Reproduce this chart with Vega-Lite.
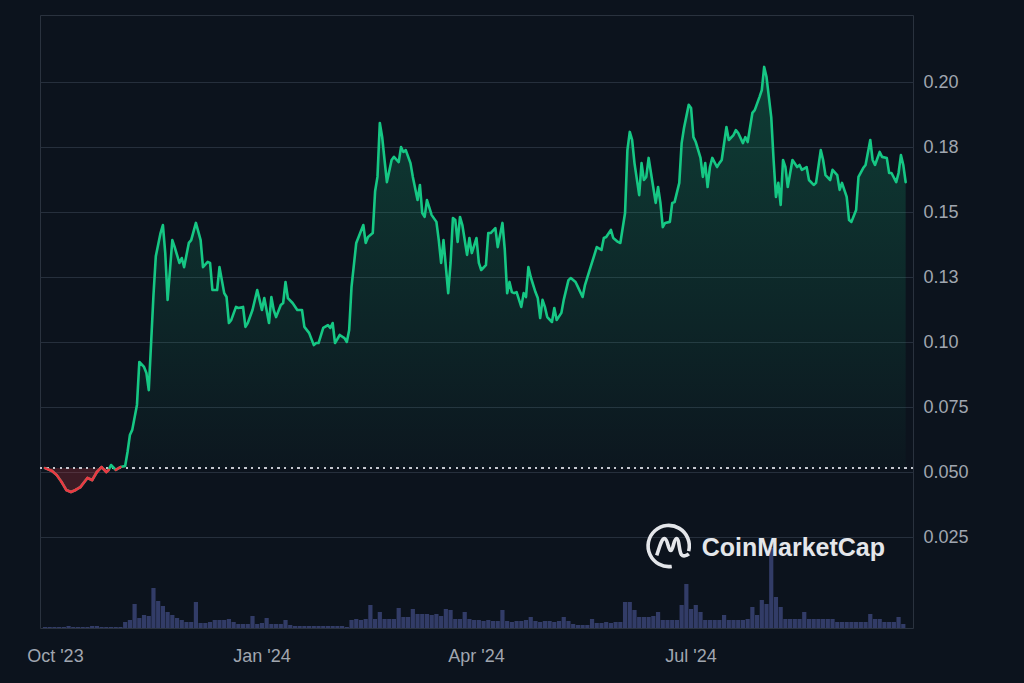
{
  "$schema": "https://vega.github.io/schema/vega-lite/v6.json",
  "width": 873,
  "height": 613,
  "autosize": {"type": "none"},
  "padding": {"left": 40, "top": 15, "right": 111, "bottom": 55},
  "background": "#0c131d",
  "config": {
    "view": {"stroke": "#2a323e", "strokeWidth": 1},
    "font": "Liberation Sans",
    "axis": {"labelFont": "Liberation Sans", "labelFontSize": 18, "labelColor": "#a0a6b0", "domain": false, "ticks": false, "title": null}
  },
  "data": {"values": [
      {"date":"2023-10-01","price":0.0515},{"date":"2023-10-04","price":0.0504},{"date":"2023-10-06","price":0.0488},{"date":"2023-10-08","price":0.0462},{"date":"2023-10-10","price":0.0431},{"date":"2023-10-12","price":0.0423},{"date":"2023-10-14","price":0.0431},{"date":"2023-10-16","price":0.0442},{"date":"2023-10-19","price":0.0477},{"date":"2023-10-21","price":0.0469},{"date":"2023-10-23","price":0.0500},{"date":"2023-10-25","price":0.0519},{"date":"2023-10-27","price":0.0500},{"date":"2023-10-28","price":0.0508},{"date":"2023-10-29","price":0.0527},{"date":"2023-10-31","price":0.0508},
      {"date":"2023-11-02","price":0.0519},{"date":"2023-11-04","price":0.0523},{"date":"2023-11-05","price":0.0577},{"date":"2023-11-06","price":0.0642},{"date":"2023-11-07","price":0.0662},{"date":"2023-11-09","price":0.0758},{"date":"2023-11-10","price":0.0923},{"date":"2023-11-12","price":0.0904},{"date":"2023-11-13","price":0.0881},{"date":"2023-11-14","price":0.0815},{"date":"2023-11-15","price":0.0996},{"date":"2023-11-16","price":0.1180},{"date":"2023-11-17","price":0.1330},{"date":"2023-11-19","price":0.1419},{"date":"2023-11-20","price":0.1450},{"date":"2023-11-21","price":0.1342},{"date":"2023-11-22","price":0.1162},{"date":"2023-11-23","price":0.1277},{"date":"2023-11-24","price":0.1392},{"date":"2023-11-25","price":0.1365},{"date":"2023-11-27","price":0.1304},{"date":"2023-11-28","price":0.1323},{"date":"2023-11-29","price":0.1288},
      {"date":"2023-12-01","price":0.1381},{"date":"2023-12-02","price":0.1392},{"date":"2023-12-04","price":0.1458},{"date":"2023-12-06","price":0.1392},{"date":"2023-12-07","price":0.1288},{"date":"2023-12-09","price":0.1308},{"date":"2023-12-10","price":0.1304},{"date":"2023-12-11","price":0.1200},{"date":"2023-12-13","price":0.1200},{"date":"2023-12-14","price":0.1288},{"date":"2023-12-16","price":0.1188},{"date":"2023-12-17","price":0.1173},{"date":"2023-12-18","price":0.1073},{"date":"2023-12-19","price":0.1085},{"date":"2023-12-21","price":0.1135},{"date":"2023-12-22","price":0.1131},{"date":"2023-12-24","price":0.1135},{"date":"2023-12-25","price":0.1058},{"date":"2023-12-26","price":0.1073},{"date":"2023-12-28","price":0.1123},{"date":"2023-12-30","price":0.1200},{"date":"2023-12-31","price":0.1162},
      {"date":"2024-01-01","price":0.1123},{"date":"2024-01-02","price":0.1169},{"date":"2024-01-04","price":0.1073},{"date":"2024-01-05","price":0.1173},{"date":"2024-01-06","price":0.1123},{"date":"2024-01-07","price":0.1096},{"date":"2024-01-09","price":0.1142},{"date":"2024-01-10","price":0.1150},{"date":"2024-01-11","price":0.1231},{"date":"2024-01-12","price":0.1169},{"date":"2024-01-14","price":0.1150},{"date":"2024-01-16","price":0.1123},{"date":"2024-01-18","price":0.1123},{"date":"2024-01-19","price":0.1058},{"date":"2024-01-21","price":0.1035},{"date":"2024-01-23","price":0.0988},{"date":"2024-01-24","price":0.0996},{"date":"2024-01-25","price":0.0996},{"date":"2024-01-27","price":0.1054},{"date":"2024-01-29","price":0.1065},{"date":"2024-01-30","price":0.1054},{"date":"2024-01-31","price":0.1073},
      {"date":"2024-02-01","price":0.0996},{"date":"2024-02-03","price":0.1027},{"date":"2024-02-05","price":0.1015},{"date":"2024-02-06","price":0.1000},{"date":"2024-02-07","price":0.1046},{"date":"2024-02-08","price":0.1212},{"date":"2024-02-10","price":0.1381},{"date":"2024-02-11","price":0.1404},{"date":"2024-02-13","price":0.1450},{"date":"2024-02-14","price":0.1381},{"date":"2024-02-15","price":0.1404},{"date":"2024-02-17","price":0.1419},{"date":"2024-02-18","price":0.1580},{"date":"2024-02-19","price":0.1635},{"date":"2024-02-20","price":0.1842},{"date":"2024-02-21","price":0.1788},{"date":"2024-02-22","price":0.1700},{"date":"2024-02-23","price":0.1615},{"date":"2024-02-25","price":0.1700},{"date":"2024-02-26","price":0.1712},{"date":"2024-02-28","price":0.1692},{"date":"2024-02-29","price":0.1750},
      {"date":"2024-03-01","price":0.1731},{"date":"2024-03-02","price":0.1738},{"date":"2024-03-04","price":0.1688},{"date":"2024-03-05","price":0.1635},{"date":"2024-03-07","price":0.1546},{"date":"2024-03-08","price":0.1604},{"date":"2024-03-09","price":0.1496},{"date":"2024-03-10","price":0.1481},{"date":"2024-03-11","price":0.1546},{"date":"2024-03-13","price":0.1488},{"date":"2024-03-15","price":0.1462},{"date":"2024-03-16","price":0.1392},{"date":"2024-03-17","price":0.1304},{"date":"2024-03-18","price":0.1392},{"date":"2024-03-20","price":0.1188},{"date":"2024-03-21","price":0.1304},{"date":"2024-03-22","price":0.1477},{"date":"2024-03-23","price":0.1469},{"date":"2024-03-24","price":0.1385},{"date":"2024-03-25","price":0.1481},{"date":"2024-03-26","price":0.1450},{"date":"2024-03-28","price":0.1335},{"date":"2024-03-29","price":0.1400},{"date":"2024-03-30","price":0.1342},
      {"date":"2024-04-01","price":0.1400},{"date":"2024-04-02","price":0.1304},{"date":"2024-04-03","price":0.1277},{"date":"2024-04-05","price":0.1296},{"date":"2024-04-06","price":0.1419},{"date":"2024-04-07","price":0.1419},{"date":"2024-04-09","price":0.1438},{"date":"2024-04-10","price":0.1365},{"date":"2024-04-12","price":0.1458},{"date":"2024-04-13","price":0.1354},{"date":"2024-04-14","price":0.1188},{"date":"2024-04-15","price":0.1231},{"date":"2024-04-16","price":0.1192},{"date":"2024-04-17","price":0.1188},{"date":"2024-04-18","price":0.1192},{"date":"2024-04-20","price":0.1135},{"date":"2024-04-21","price":0.1188},{"date":"2024-04-22","price":0.1173},{"date":"2024-04-23","price":0.1288},{"date":"2024-04-24","price":0.1250},{"date":"2024-04-26","price":0.1192},{"date":"2024-04-27","price":0.1169},{"date":"2024-04-28","price":0.1092},{"date":"2024-04-29","price":0.1162},{"date":"2024-04-30","price":0.1135},
      {"date":"2024-05-01","price":0.1096},{"date":"2024-05-03","price":0.1077},{"date":"2024-05-04","price":0.1131},{"date":"2024-05-05","price":0.1085},{"date":"2024-05-07","price":0.1112},{"date":"2024-05-08","price":0.1162},{"date":"2024-05-10","price":0.1238},{"date":"2024-05-11","price":0.1246},{"date":"2024-05-13","price":0.1231},{"date":"2024-05-14","price":0.1212},{"date":"2024-05-16","price":0.1173},{"date":"2024-05-17","price":0.1219},{"date":"2024-05-19","price":0.1277},{"date":"2024-05-21","price":0.1335},{"date":"2024-05-22","price":0.1365},{"date":"2024-05-24","price":0.1354},{"date":"2024-05-25","price":0.1400},{"date":"2024-05-26","price":0.1404},{"date":"2024-05-28","price":0.1431},{"date":"2024-05-29","price":0.1400},{"date":"2024-05-31","price":0.1385},
      {"date":"2024-06-01","price":0.1381},{"date":"2024-06-03","price":0.1496},{"date":"2024-06-04","price":0.1738},{"date":"2024-06-05","price":0.1808},{"date":"2024-06-06","price":0.1777},{"date":"2024-06-07","price":0.1688},{"date":"2024-06-09","price":0.1565},{"date":"2024-06-10","price":0.1688},{"date":"2024-06-11","price":0.1623},{"date":"2024-06-12","price":0.1635},{"date":"2024-06-13","price":0.1708},{"date":"2024-06-14","price":0.1650},{"date":"2024-06-16","price":0.1535},{"date":"2024-06-17","price":0.1596},{"date":"2024-06-18","price":0.1535},{"date":"2024-06-19","price":0.1442},{"date":"2024-06-20","price":0.1458},{"date":"2024-06-22","price":0.1462},{"date":"2024-06-23","price":0.1535},{"date":"2024-06-24","price":0.1538},{"date":"2024-06-26","price":0.1612},{"date":"2024-06-27","price":0.1765},{"date":"2024-06-28","price":0.1823},{"date":"2024-06-30","price":0.1912},
      {"date":"2024-07-01","price":0.1900},{"date":"2024-07-02","price":0.1788},{"date":"2024-07-03","price":0.1769},{"date":"2024-07-05","price":0.1708},{"date":"2024-07-06","price":0.1635},{"date":"2024-07-07","price":0.1688},{"date":"2024-07-08","price":0.1596},{"date":"2024-07-09","price":0.1673},{"date":"2024-07-10","price":0.1708},{"date":"2024-07-12","price":0.1673},{"date":"2024-07-13","price":0.1688},{"date":"2024-07-14","price":0.1700},{"date":"2024-07-16","price":0.1827},{"date":"2024-07-17","price":0.1777},{"date":"2024-07-19","price":0.1796},{"date":"2024-07-20","price":0.1815},{"date":"2024-07-21","price":0.1804},{"date":"2024-07-23","price":0.1765},{"date":"2024-07-24","price":0.1788},{"date":"2024-07-25","price":0.1769},{"date":"2024-07-27","price":0.1881},{"date":"2024-07-28","price":0.1892},{"date":"2024-07-30","price":0.1942},{"date":"2024-07-31","price":0.1969},
      {"date":"2024-08-01","price":0.2058},{"date":"2024-08-02","price":0.2019},{"date":"2024-08-04","price":0.1865},{"date":"2024-08-05","price":0.1700},{"date":"2024-08-06","price":0.1558},{"date":"2024-08-07","price":0.1612},{"date":"2024-08-08","price":0.1527},{"date":"2024-08-09","price":0.1700},{"date":"2024-08-10","price":0.1673},{"date":"2024-08-11","price":0.1596},{"date":"2024-08-13","price":0.1700},{"date":"2024-08-15","price":0.1673},{"date":"2024-08-16","price":0.1681},{"date":"2024-08-17","price":0.1662},{"date":"2024-08-19","price":0.1673},{"date":"2024-08-20","price":0.1623},{"date":"2024-08-22","price":0.1604},{"date":"2024-08-23","price":0.1612},{"date":"2024-08-25","price":0.1738},{"date":"2024-08-26","price":0.1700},{"date":"2024-08-27","price":0.1642},{"date":"2024-08-29","price":0.1623},{"date":"2024-08-30","price":0.1662},
      {"date":"2024-09-01","price":0.1642},{"date":"2024-09-02","price":0.1585},{"date":"2024-09-03","price":0.1612},{"date":"2024-09-05","price":0.1558},{"date":"2024-09-06","price":0.1469},{"date":"2024-09-07","price":0.1462},{"date":"2024-09-09","price":0.1508},{"date":"2024-09-10","price":0.1635},{"date":"2024-09-12","price":0.1669},{"date":"2024-09-13","price":0.1681},{"date":"2024-09-15","price":0.1777},{"date":"2024-09-16","price":0.1700},{"date":"2024-09-17","price":0.1681},{"date":"2024-09-19","price":0.1731},{"date":"2024-09-20","price":0.1712},{"date":"2024-09-22","price":0.1708},{"date":"2024-09-23","price":0.1650},{"date":"2024-09-24","price":0.1650},{"date":"2024-09-26","price":0.1615},{"date":"2024-09-27","price":0.1650},{"date":"2024-09-28","price":0.1719},{"date":"2024-09-29","price":0.1681},{"date":"2024-09-30","price":0.1615}
  ]},
  "resolve": {"scale": {"y": "independent"}},
  "layer": [
    {
      "layer": [
        {
          "data": {"values": [
            {"date":"2023-10-01","volume":0.5},{"date":"2023-10-03","volume":0.5},{"date":"2023-10-05","volume":0.5},{"date":"2023-10-07","volume":0.5},{"date":"2023-10-09","volume":0.5},{"date":"2023-10-11","volume":1},{"date":"2023-10-13","volume":0.5},{"date":"2023-10-15","volume":0.5},{"date":"2023-10-17","volume":0.5},{"date":"2023-10-19","volume":0.5},{"date":"2023-10-21","volume":1},{"date":"2023-10-23","volume":1},{"date":"2023-10-25","volume":0.5},{"date":"2023-10-27","volume":0.5},{"date":"2023-10-29","volume":0.5},{"date":"2023-10-31","volume":0.5},
            {"date":"2023-11-02","volume":0.5},{"date":"2023-11-04","volume":3},{"date":"2023-11-06","volume":4},{"date":"2023-11-08","volume":12},{"date":"2023-11-10","volume":5},{"date":"2023-11-12","volume":6.5},{"date":"2023-11-14","volume":6},{"date":"2023-11-16","volume":20},{"date":"2023-11-18","volume":13.5},{"date":"2023-11-20","volume":11},{"date":"2023-11-22","volume":8},{"date":"2023-11-24","volume":6.5},{"date":"2023-11-26","volume":5},{"date":"2023-11-28","volume":4},{"date":"2023-11-30","volume":3},
            {"date":"2023-12-02","volume":3},{"date":"2023-12-04","volume":13},{"date":"2023-12-06","volume":2.5},{"date":"2023-12-08","volume":2.5},{"date":"2023-12-10","volume":3},{"date":"2023-12-12","volume":4},{"date":"2023-12-14","volume":4},{"date":"2023-12-16","volume":4},{"date":"2023-12-18","volume":4.5},{"date":"2023-12-20","volume":3},{"date":"2023-12-22","volume":2},{"date":"2023-12-24","volume":2},{"date":"2023-12-26","volume":2},{"date":"2023-12-28","volume":6},{"date":"2023-12-30","volume":2},
            {"date":"2024-01-01","volume":2.5},{"date":"2024-01-03","volume":5},{"date":"2024-01-05","volume":2},{"date":"2024-01-07","volume":2},{"date":"2024-01-09","volume":2},{"date":"2024-01-11","volume":4},{"date":"2024-01-13","volume":1.5},{"date":"2024-01-15","volume":1},{"date":"2024-01-17","volume":1},{"date":"2024-01-19","volume":1},{"date":"2024-01-21","volume":1},{"date":"2024-01-23","volume":1},{"date":"2024-01-25","volume":1},{"date":"2024-01-27","volume":1},{"date":"2024-01-29","volume":1},{"date":"2024-01-31","volume":1},
            {"date":"2024-02-02","volume":1},{"date":"2024-02-04","volume":1},{"date":"2024-02-06","volume":0.5},{"date":"2024-02-08","volume":4},{"date":"2024-02-10","volume":4.5},{"date":"2024-02-12","volume":4},{"date":"2024-02-14","volume":4.5},{"date":"2024-02-16","volume":11.5},{"date":"2024-02-18","volume":4.5},{"date":"2024-02-20","volume":8},{"date":"2024-02-22","volume":4.5},{"date":"2024-02-24","volume":4.5},{"date":"2024-02-26","volume":4.5},{"date":"2024-02-28","volume":10},
            {"date":"2024-03-01","volume":5.5},{"date":"2024-03-03","volume":5.5},{"date":"2024-03-05","volume":9.5},{"date":"2024-03-07","volume":7},{"date":"2024-03-09","volume":7},{"date":"2024-03-11","volume":7},{"date":"2024-03-13","volume":6.5},{"date":"2024-03-15","volume":7},{"date":"2024-03-17","volume":6},{"date":"2024-03-19","volume":9.5},{"date":"2024-03-21","volume":9},{"date":"2024-03-23","volume":4.5},{"date":"2024-03-25","volume":4.5},{"date":"2024-03-27","volume":8},{"date":"2024-03-29","volume":4.5},{"date":"2024-03-31","volume":4},
            {"date":"2024-04-02","volume":4},{"date":"2024-04-04","volume":3.5},{"date":"2024-04-06","volume":4},{"date":"2024-04-08","volume":3.5},{"date":"2024-04-10","volume":3.5},{"date":"2024-04-12","volume":9},{"date":"2024-04-14","volume":3.5},{"date":"2024-04-16","volume":3},{"date":"2024-04-18","volume":3.5},{"date":"2024-04-20","volume":3.5},{"date":"2024-04-22","volume":4},{"date":"2024-04-24","volume":5.5},{"date":"2024-04-26","volume":3.5},{"date":"2024-04-28","volume":3},{"date":"2024-04-30","volume":3.5},
            {"date":"2024-05-02","volume":3.5},{"date":"2024-05-04","volume":3},{"date":"2024-05-06","volume":3.5},{"date":"2024-05-08","volume":5.5},{"date":"2024-05-10","volume":3.5},{"date":"2024-05-12","volume":2},{"date":"2024-05-14","volume":1.5},{"date":"2024-05-16","volume":1.5},{"date":"2024-05-18","volume":1.5},{"date":"2024-05-20","volume":4.5},{"date":"2024-05-22","volume":2.5},{"date":"2024-05-24","volume":2.5},{"date":"2024-05-26","volume":3},{"date":"2024-05-28","volume":2.5},{"date":"2024-05-30","volume":3},
            {"date":"2024-06-01","volume":3},{"date":"2024-06-03","volume":13},{"date":"2024-06-05","volume":13},{"date":"2024-06-07","volume":9},{"date":"2024-06-09","volume":5.5},{"date":"2024-06-11","volume":5.5},{"date":"2024-06-13","volume":5.5},{"date":"2024-06-15","volume":6},{"date":"2024-06-17","volume":8},{"date":"2024-06-19","volume":4},{"date":"2024-06-21","volume":4},{"date":"2024-06-23","volume":4},{"date":"2024-06-25","volume":4},{"date":"2024-06-27","volume":11.5},{"date":"2024-06-29","volume":22},
            {"date":"2024-07-01","volume":9.5},{"date":"2024-07-03","volume":11.5},{"date":"2024-07-05","volume":8},{"date":"2024-07-07","volume":4},{"date":"2024-07-09","volume":4},{"date":"2024-07-11","volume":4},{"date":"2024-07-13","volume":4},{"date":"2024-07-15","volume":6.5},{"date":"2024-07-17","volume":4},{"date":"2024-07-19","volume":4},{"date":"2024-07-21","volume":4},{"date":"2024-07-23","volume":4},{"date":"2024-07-25","volume":4.5},{"date":"2024-07-27","volume":10.5},{"date":"2024-07-29","volume":6.5},{"date":"2024-07-31","volume":14},
            {"date":"2024-08-02","volume":12},{"date":"2024-08-04","volume":40},{"date":"2024-08-06","volume":15.5},{"date":"2024-08-08","volume":10.5},{"date":"2024-08-10","volume":4.5},{"date":"2024-08-12","volume":4.5},{"date":"2024-08-14","volume":4.5},{"date":"2024-08-16","volume":4.5},{"date":"2024-08-18","volume":8},{"date":"2024-08-20","volume":4.5},{"date":"2024-08-22","volume":4.5},{"date":"2024-08-24","volume":4.5},{"date":"2024-08-26","volume":4.5},{"date":"2024-08-28","volume":4.5},{"date":"2024-08-30","volume":4.5},
            {"date":"2024-09-01","volume":3},{"date":"2024-09-03","volume":3},{"date":"2024-09-05","volume":3},{"date":"2024-09-07","volume":3},{"date":"2024-09-09","volume":3},{"date":"2024-09-11","volume":3},{"date":"2024-09-13","volume":3},{"date":"2024-09-15","volume":7},{"date":"2024-09-17","volume":4.5},{"date":"2024-09-19","volume":4.5},{"date":"2024-09-21","volume":3},{"date":"2024-09-23","volume":3},{"date":"2024-09-25","volume":3},{"date":"2024-09-27","volume":5.5},{"date":"2024-09-29","volume":2}
          ]},
          "mark": {"type": "bar", "color": "#353e6c", "opacity": 0.95, "size": 4.2},
          "encoding": {
            "x": {"field": "date", "type": "temporal", "scale": {"type": "utc", "domain": [1696118400000, 1727740800000], "nice": false}, "axis": null},
            "y": {"field": "volume", "type": "quantitative", "scale": {"domain": [0, 306.5], "nice": false, "zero": true}, "axis": null}
          }
        },
        {
          "data": {"values": [
            {"date": "2023-10-05T10:00:00Z", "label": "Oct '23"},
            {"date": "2024-01-01T00:00:00Z", "label": "Jan '24"},
            {"date": "2024-04-01T00:00:00Z", "label": "Apr '24"},
            {"date": "2024-07-01T00:00:00Z", "label": "Jul '24"}
          ]},
          "mark": {"type": "text", "align": "center", "baseline": "middle", "fontSize": 18, "font": "Liberation Sans", "color": "#a0a6b0"},
          "encoding": {
            "x": {"field": "date", "type": "temporal", "axis": null},
            "y": {"datum": -14.5, "type": "quantitative", "axis": null},
            "text": {"field": "label"}
          }
        },
        {
          "data": {"values": [{"date": "2024-07-05T12:00:00Z", "brand": "CoinMarketCap"}]},
          "mark": {"type": "text", "align": "left", "baseline": "middle", "fontSize": 25, "fontWeight": "bold", "font": "Liberation Sans", "color": "#e4e6ea"},
          "encoding": {
            "x": {"field": "date", "type": "temporal", "axis": null},
            "y": {"datum": 40, "type": "quantitative", "axis": null},
            "text": {"field": "brand"}
          }
        },
        {
          "data": {"values": [{"date": "2024-06-21T12:00:00Z", "brand": "CoinMarketCap"}]},
          "mark": {"type": "point", "filled": false, "stroke": "#e4e6ea", "strokeWidth": 3.6, "opacity": 1, "size": 1700,
            "shape": "M 0.15 0.99 A 1 1 0 1 1 0.97 0.25 M -0.58 0.45 C -0.45 0.1 -0.36 -0.36 -0.2 -0.36 C -0.04 -0.36 -0.03 0.22 0.1 0.22 C 0.23 0.22 0.24 -0.36 0.38 -0.36 C 0.52 -0.36 0.5 0.3 0.62 0.42 C 0.7 0.52 0.86 0.48 0.98 0.38"},
          "encoding": {
            "x": {"field": "date", "type": "temporal", "axis": null},
            "y": {"datum": 41, "type": "quantitative", "axis": null}
          }
        }
      ]
    },
    {
      "encoding": {
        "x": {"field": "date", "type": "temporal", "axis": null},
        "y": {
          "field": "price", "type": "quantitative",
          "scale": {"domain": [-0.01, 0.22577], "nice": false, "zero": false},
          "axis": {
            "orient": "right",
            "values": [0.025, 0.05, 0.075, 0.1, 0.125, 0.15, 0.175, 0.2],
            "labelExpr": "datum.value >= 0.1 ? format(datum.value + 1e-9, '.2f') : format(datum.value, '.3f')",
            "grid": true, "gridColor": "#262f3c", "gridWidth": 1,
            "labelPadding": 10, "labelAlign": "left", "labelBaseline": "middle"
          }
        }
      },
      "layer": [
        {
          "transform": [{"filter": {"field": "date", "gte": {"year": 2023, "month": 11, "date": 4, "utc": true}}}],
          "mark": {"type": "area", "fill": {"gradient": "linear", "x1": 0, "y1": 0, "x2": 0, "y2": 1, "stops": [{"offset": 0, "color": "rgba(22,199,132,0.24)"}, {"offset": 1, "color": "rgba(22,199,132,0.02)"}]}},
          "encoding": {"y2": {"datum": 0.0515}}
        },
        {
          "transform": [{"filter": {"field": "date", "lte": {"year": 2023, "month": 11, "date": 4, "utc": true}}}],
          "mark": {"type": "area", "fill": "#ea3943", "fillOpacity": 0.22},
          "encoding": {"y2": {"datum": 0.0515}}
        },
        {
          "mark": {"type": "rule", "color": "#c5c9d0", "strokeWidth": 1.6, "strokeDash": [1.6, 5]},
          "encoding": {"x": null, "y": {"datum": 0.0515, "type": "quantitative"}}
        },
        {
          "mark": {"type": "line", "color": "#16c784", "strokeWidth": 2.6, "strokeJoin": "round", "strokeCap": "round"}
        },
        {
          "transform": [
            {"window": [{"op": "lead", "field": "price", "as": "next_price"}, {"op": "lead", "field": "date", "as": "next_date"}], "sort": [{"field": "date"}]},
            {"filter": "datum.next_price != null && (datum.price + datum.next_price) / 2 < 0.0515"}
          ],
          "mark": {"type": "rule", "color": "#ea3943", "strokeWidth": 2.6, "strokeCap": "round"},
          "encoding": {
            "x2": {"field": "next_date"},
            "y2": {"field": "next_price"}
          }
        }
      ]
    }
  ]
}
